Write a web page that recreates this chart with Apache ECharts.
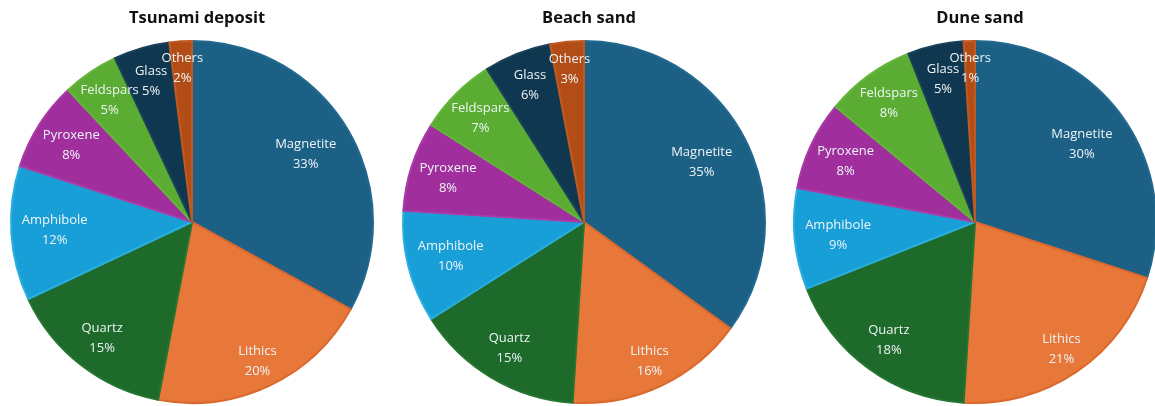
<!DOCTYPE html>
<html>
<head>
<meta charset="utf-8">
<script src="https://cdn.jsdelivr.net/npm/echarts@6/dist/echarts.min.js"></script>
<style>
  html, body { margin: 0; padding: 0; background: #ffffff; }
  #chart { width: 1155px; height: 406px; }
</style>
</head>
<body>
<div id="chart"></div>
<script>
// Mineral composition (%) of three sediment types
const minerals = ['Magnetite', 'Lithics', 'Quartz', 'Amphibole', 'Pyroxene', 'Feldspars', 'Glass', 'Others'];
const sampleTitles = ['Tsunami deposit', 'Beach sand', 'Dune sand'];
const tsunamiDeposit = [33, 20, 15, 12, 8, 5, 5, 2];
const beachSand = [35, 16, 15, 10, 8, 7, 6, 3];
const duneSand = [30, 21, 18, 9, 8, 8, 5, 1];

// Slice styling per mineral
const fillColors = ['#1c6085', '#e8773a', '#1d6a2b', '#199fd8', '#a02f9d', '#5aad32', '#0f3850', '#b34d17'];
const edgeColors = ['#23698f', '#d9692d', '#25752f', '#2caee0', '#a93aa6', '#64b63a', '#17425a', '#c05a22'];
// how far out (fraction of radius) each mineral's label sits
const labelDepth = [0.73, 0.85, 0.81, 0.76, 0.79, 0.81, 0.81, 0.85];

const samples = [tsunamiDeposit, beachSand, duneSand];
const centersX = [192, 584, 975];
const centerY = 222;
const pieRadius = 181;

const series = samples.map((values, i) => ({
  type: 'pie',
  center: [centersX[i], centerY],
  radius: [0, pieRadius],
  startAngle: 90,
  clockwise: true,
  silent: true,
  avoidLabelOverlap: false,
  label: {
    show: true,
    position: 'outside',
    alignTo: 'none',
    distanceToLabelLine: 0,
    formatter: '{b}\n{c}%',
    color: '#eef4f6',
    fontFamily: 'Open Sans',
    fontSize: 13,
    lineHeight: 20
  },
  labelLine: { show: false, length2: 0 },
  labelLayout: function () {
    return { align: 'center', verticalAlign: 'middle', hideOverlap: false };
  },
  data: minerals.map((name, k) => ({
    name: name,
    value: values[k],
    itemStyle: { color: fillColors[k], borderColor: edgeColors[k], borderWidth: 2 },
    // pull the label back inside the slice
    labelLine: { show: false, length: -(1 - labelDepth[k]) * pieRadius, length2: 0 }
  }))
}));

const titles = sampleTitles.map((t, i) => ({
  text: t,
  left: centersX[i],
  top: 5,
  textAlign: 'center',
  textStyle: { fontFamily: 'Open Sans', fontSize: 16.5, fontWeight: 'bold', color: '#111111' }
}));

const chart = echarts.init(document.getElementById('chart'), null, { renderer: 'canvas' });
chart.setOption({
  animation: false,
  backgroundColor: '#ffffff',
  title: titles,
  series: series
});
</script>
</body>
</html>
